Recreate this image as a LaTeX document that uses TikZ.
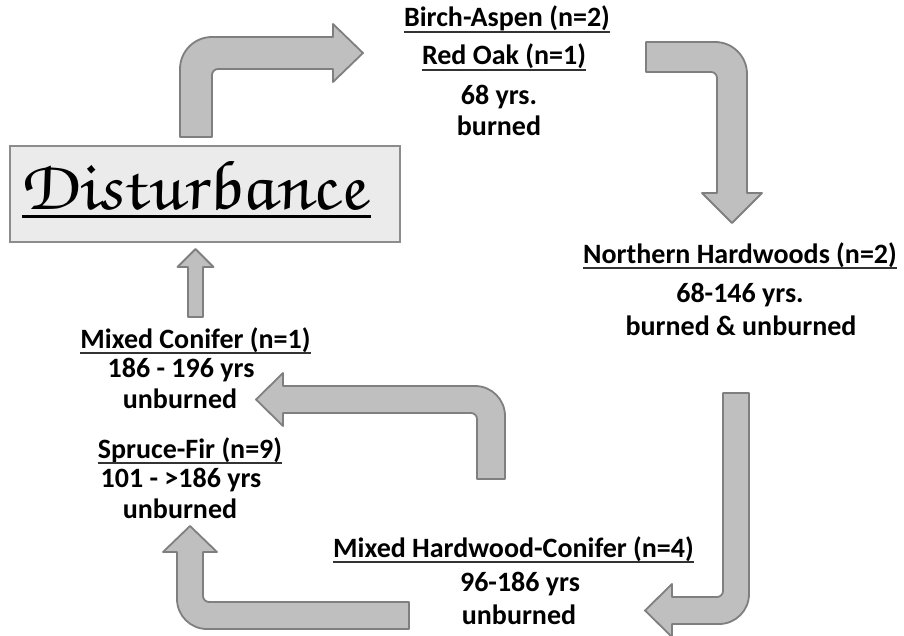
\documentclass[tikz,border=0pt]{standalone}
\usepackage{fontspec}
\setmainfont{Carlito}
\newfontfamily\handfont[FakeSlant=-0.22]{TeX Gyre Chorus}
\usepackage{graphicx}
\definecolor{arrfill}{HTML}{BFBFBF}
\definecolor{arrline}{HTML}{7F7F7F}
\definecolor{boxfill}{HTML}{EBEBEB}
\definecolor{boxline}{HTML}{8C8C8C}
\tikzset{
  blockarrow/.style={fill=arrfill, draw=arrline, line width=1.8pt, line join=round},
  lbl/.style={inner sep=0pt, anchor=base, font=\fontsize{28}{30}\selectfont\bfseries},
  uline/.style={line width=1.3pt, draw=black!80},
  distbox/.style={fill=boxfill, draw=boxline, line width=1.2pt, inner sep=0pt}
}
\begin{document}
\begin{tikzpicture}[x=1pt, y=-1pt]
\useasboundingbox (0,0) rectangle (904,636);

% Disturbance box
\node[distbox, minimum width=390pt, minimum height=96pt] (dist) at (205,194) {};
\node[inner sep=0pt, anchor=base west] (distt) at (24,210) {\resizebox{344pt}{48pt}{\handfont Disturbance}};
\draw[line width=3pt] (22,216.5) -- (371,216.5);

% Block arrows
% A: Disturbance -> Birch-Aspen
\path[blockarrow] (180,137) -- (180,69) .. controls (180,51.3) and (194.3,37) .. (212,37)
  -- (333,37) -- (333,24) -- (363,53) -- (333,82) -- (333,69) -- (218,69)
  .. controls (214.7,69) and (212,71.7) .. (212,75) -- (212,137) -- cycle;
% B: Birch-Aspen -> Northern Hardwoods
\path[blockarrow] (646,42) -- (715,42) .. controls (732.7,42) and (747,56.3) .. (747,74)
  -- (747,193) -- (762,193) -- (732,223) -- (702,193) -- (717,193) -- (717,78)
  .. controls (717,74.7) and (714.3,72) .. (711,72) -- (646,72) -- cycle;
% C: Northern Hardwoods -> Mixed Hardwood-Conifer
\path[blockarrow] (749,393) -- (749,594) .. controls (749,610.6) and (735.6,624) .. (719,624)
  -- (672,624) -- (672,637) -- (645,610.5) -- (672,584) -- (672,597) -- (717,597)
  .. controls (720.3,597) and (723,594.3) .. (723,591) -- (723,393) -- cycle;
% D: Mixed Hardwood-Conifer -> Spruce-Fir
\path[blockarrow] (409,629) -- (207,629) .. controls (190.4,629) and (177,615.6) .. (177,599)
  -- (177,552) -- (163,552) -- (190,526) -- (217,552) -- (203,552) -- (203,596)
  .. controls (203,599.3) and (205.7,602) .. (209,602) -- (409,602) -- cycle;
% E: -> Mixed Conifer
\path[blockarrow] (505,479) -- (505,416) .. controls (505,399.4) and (491.6,386) .. (475,386)
  -- (283,386) -- (283,373) -- (256,399.5) -- (283,426) -- (283,413) -- (471,413)
  .. controls (474.3,413) and (477,415.7) .. (477,419) -- (477,479) -- cycle;
% F: Mixed Conifer -> Disturbance
\path[blockarrow] (188,317) -- (188,267) -- (177.5,267) -- (195.5,249) -- (213.5,267)
  -- (203,267) -- (203,317) -- cycle;

% Labels
\node[lbl] (ba) at (507,27) {Birch-Aspen (n=2)};
\node[lbl] (ro) at (504,65) {Red Oak (n=1)};
\node[lbl] (y1) at (499,105) {68 yrs.};
\node[lbl] (b1) at (499,136) {burned};

\node[lbl] (nh) at (740,263) {Northern Hardwoods (n=2)};
\node[lbl] (y2) at (740,302) {68-146 yrs.};
\node[lbl] (b2) at (741,335) {burned \& unburned};

\node[lbl] (mc) at (195.5,348) {Mixed Conifer (n=1)};
\node[lbl] (y3) at (181,377) {186 - 196 yrs};
\node[lbl] (b3) at (180,408) {unburned};

\node[lbl] (sf) at (190,458) {Spruce-Fir (n=9)};
\node[lbl] (y4) at (181,487) {101 - >186 yrs};
\node[lbl] (b4) at (180,518) {unburned};

\node[lbl] (mh) at (513.5,557) {Mixed Hardwood-Conifer (n=4)};
\node[lbl] (y5) at (520,591) {96-186 yrs};
\node[lbl] (b5) at (519,624) {unburned};

% Underlines
\foreach \n in {ba,ro,nh,mc,sf,mh}{
  \draw[uline] ([yshift=-5pt]\n.base west) -- ([yshift=-5pt]\n.base east);
}
\end{tikzpicture}
\end{document}
